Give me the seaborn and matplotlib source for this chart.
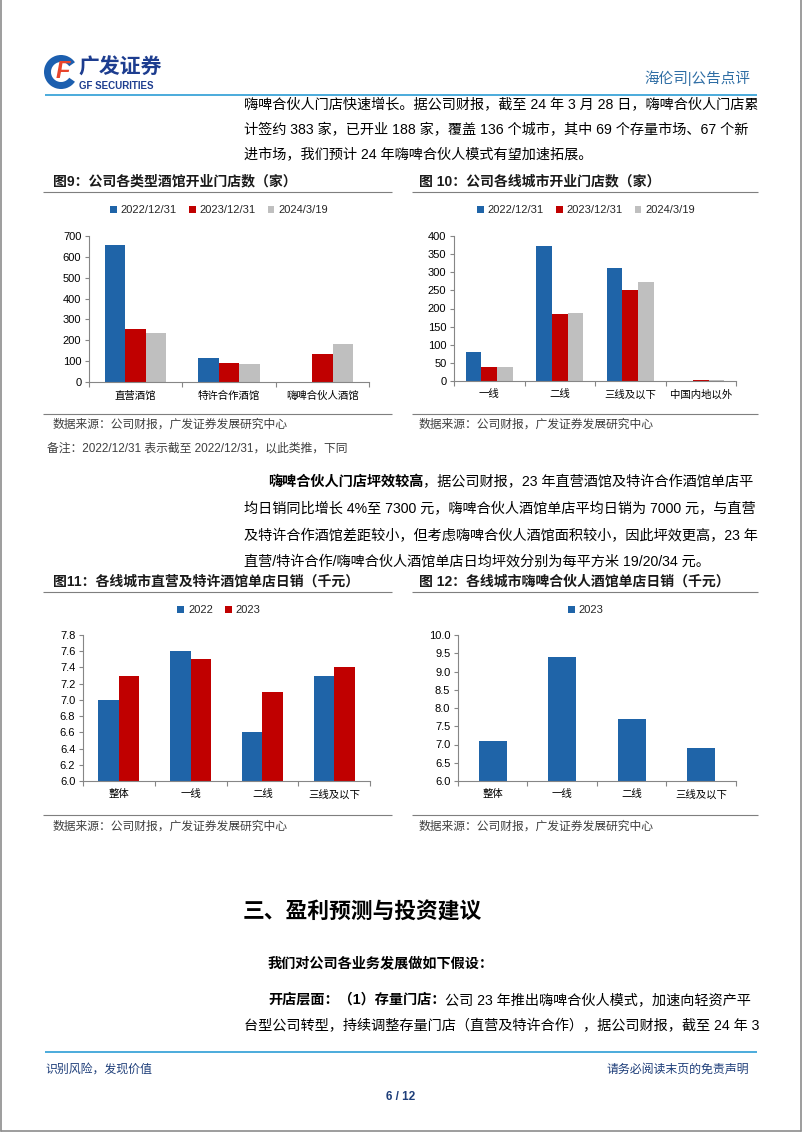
import numpy as np
import pandas as pd
import matplotlib
matplotlib.use('Agg')
import matplotlib.pyplot as plt
import seaborn as sns
from matplotlib.patches import Wedge
from matplotlib.ticker import FormatStrFormatter, MultipleLocator

# ---------------- data ----------------
fig9_categories = ['直营酒馆', '特许合作酒馆', '嗨啤合伙人酒馆']
fig9_series = ['2022/12/31', '2023/12/31', '2024/3/19']
fig9_2022 = [655, 115, 0]
fig9_2023 = [256, 93, 133]
fig9_2024 = [237, 85, 184]

fig10_categories = ['一线', '二线', '三线及以下', '中国内地以外']
fig10_series = ['2022/12/31', '2023/12/31', '2024/3/19']
fig10_2022 = [79, 372, 313, 0]
fig10_2023 = [38, 185, 251, 3]
fig10_2024 = [39, 187, 273, 2]

fig11_categories = ['整体', '一线', '二线', '三线及以下']
fig11_series = ['2022', '2023']
fig11_2022 = [7.0, 7.6, 6.6, 7.3]
fig11_2023 = [7.3, 7.5, 7.1, 7.4]

fig12_categories = ['整体', '一线', '二线', '三线及以下']
fig12_series = ['2023']
fig12_2023 = [7.1, 9.4, 7.7, 6.9]

BLUE = '#1F64A8'
RED = '#C00000'
GRAY = '#BFBFBF'
AXC = '#868686'

W, H = 802, 1133

sns.set_style('white')
plt.rcParams['font.family'] = ['Liberation Sans', 'Noto Sans CJK SC']
plt.rcParams['axes.unicode_minus'] = False

fig = plt.figure(figsize=(W / 100, H / 100), dpi=100)
fig.patch.set_facecolor('white')


def px_rect(x0, y0, x1, y1):
    return [x0 / W, 1 - y1 / H, (x1 - x0) / W, (y1 - y0) / H]


# overlay axes in pixel coordinates
axo = fig.add_axes([0, 0, 1, 1])
axo.set_xlim(0, W)
axo.set_ylim(H, 0)
axo.axis('off')


def T(x, y, s, size, weight='normal', color='black', ha='left', **kw):
    return axo.text(x, y, s, fontsize=size, fontweight=weight, color=color,
                    ha=ha, va='center', **kw)


def hline(y, x0, x1, color, lw):
    axo.plot([x0, x1], [y, y], color=color, lw=lw, solid_capstyle='butt')


renderer = fig.canvas.get_renderer()


def mixed(x, y, parts, size):
    for s, w in parts:
        t = T(x, y, s, size, weight=w)
        bb = t.get_window_extent(renderer=renderer)
        x = bb.x1


# ---------------- bar chart helper ----------------
def bar_chart(rect, cats, series, values, colors, width, ylim, step, fmt,
              legend_center, ticks_fs=8, cat_fs=7.5):
    x0, y0, x1, y1 = rect
    ax = fig.add_axes(px_rect(*rect))
    rows = []
    for s, vals in zip(series, values):
        for c, v in zip(cats, vals):
            rows.append({'cat': c, 'series': s, 'val': v})
    df = pd.DataFrame(rows)
    sns.barplot(data=df, x='cat', y='val', hue='series', order=cats,
                hue_order=series, palette=colors, width=width, saturation=1,
                linewidth=0, ax=ax, legend=True)
    n = len(cats)
    ax.set_xlim(-0.5, n - 0.5)
    ax.set_ylim(*ylim)
    ax.yaxis.set_major_locator(MultipleLocator(step))
    ax.yaxis.set_major_formatter(FormatStrFormatter(fmt))
    ax.set_xlabel('')
    ax.set_ylabel('')
    for sp in ['top', 'right']:
        ax.spines[sp].set_visible(False)
    for sp in ['left', 'bottom']:
        ax.spines[sp].set_color(AXC)
        ax.spines[sp].set_linewidth(0.8)
    ax.tick_params(axis='y', length=3, width=0.8, color=AXC, labelsize=ticks_fs,
                   pad=2.5, labelcolor='black', left=True)
    ax.tick_params(axis='x', which='major', length=0, pad=6, labelsize=cat_fs,
                   labelcolor='black')
    ax.set_xticks(np.arange(-0.5, n), minor=True)
    ax.tick_params(axis='x', which='minor', length=3.5, width=0.8, color=AXC,
                   bottom=True)
    ax.set_facecolor('white')
    cx, cy = legend_center
    sns.move_legend(ax, 'center',
                    bbox_to_anchor=((cx - x0) / (x1 - x0), (y1 - cy) / (y1 - y0)),
                    ncol=len(series), frameon=False, title=None, fontsize=8,
                    handlelength=0.6, handleheight=0.6, handletextpad=0.35,
                    columnspacing=1.1, borderaxespad=0)
    return ax


bar_chart((89, 236, 369, 382), fig9_categories, fig9_series,
          [fig9_2022, fig9_2023, fig9_2024], [BLUE, RED, GRAY], 0.66,
          (0, 700), 100, '%d', (219, 210))
bar_chart((454, 236, 736, 381), fig10_categories, fig10_series,
          [fig10_2022, fig10_2023, fig10_2024], [BLUE, RED, GRAY], 0.66,
          (0, 400), 50, '%d', (586, 210))
bar_chart((83, 635, 370, 781), fig11_categories, fig11_series,
          [fig11_2022, fig11_2023], [BLUE, RED], 0.57,
          (6.0, 7.8), 0.2, '%.1f', (219, 610))
bar_chart((458, 635, 736, 781), fig12_categories, fig12_series,
          [fig12_2023], [BLUE], 0.4,
          (6.0, 10.0), 0.5, '%.1f', (586, 610))

# ---------------- page decorations ----------------
# border
axo.plot([1, 1], [0, 1131], color='#8c8c8c', lw=1.2)
axo.plot([800.5, 800.5], [0, 1131], color='#8c8c8c', lw=1.2)
axo.plot([1, 800.5], [1131, 1131], color='#8c8c8c', lw=1.2)

# logo
axo.add_patch(Wedge((61, 72), 17, 35, 325, width=7, facecolor='#1C5FAF',
                    edgecolor='none'))
T(63, 72, 'F', 17, weight='bold', color='#E8452C', style='italic', ha='center')
T(78, 68, '广发证券', 15, weight='bold', color='#1D3D8F')
T(79, 86, 'GF SECURITIES', 7, weight='bold', color='#1D3D8F')
T(750, 78, '海伦司|公告点评', 10.5, color='#2E6DA4', ha='right')
hline(95, 45, 757, '#3DA5D9', 1.3)

BODY = 10.2
# paragraph 1
T(244, 105, '嗨啤合伙人门店快速增长。据公司财报，截至 24 年 3 月 28 日，嗨啤合伙人门店累', BODY)
T(244, 130, '计签约 383 家，已开业 188 家，覆盖 136 个城市，其中 69 个存量市场、67 个新', BODY)
T(244, 155, '进市场，我们预计 24 年嗨啤合伙人模式有望加速拓展。', BODY)

# chart titles / lines
TITLE_FS = 10
T(53, 181, '图9：公司各类型酒馆开业门店数（家）', TITLE_FS, weight='bold', color='#1a1a1a')
T(419, 181, '图 10：公司各线城市开业门店数（家）', TITLE_FS, weight='bold', color='#1a1a1a')
hline(192, 43, 392, '#7f7f7f', 0.8)
hline(192, 412, 758, '#7f7f7f', 0.8)
hline(414, 43, 392, '#7f7f7f', 0.8)
hline(414, 412, 758, '#7f7f7f', 0.8)
SRC = '数据来源：公司财报，广发证券发展研究中心'
T(53, 425, SRC, 8.5, color='#3f3f3f')
T(419, 425, SRC, 8.5, color='#3f3f3f')
T(47, 449, '备注：2022/12/31 表示截至 2022/12/31，以此类推，下同', 8.5, color='#3f3f3f')

# paragraph 2
mixed(268, 482, [('嗨啤合伙人门店坪效较高', 'bold'),
                 ('，据公司财报，23 年直营酒馆及特许合作酒馆单店平', 'normal')], BODY)
T(244, 509, '均日销同比增长 4%至 7300 元，嗨啤合伙人酒馆单店平均日销为 7000 元，与直营', BODY)
T(244, 536, '及特许合作酒馆差距较小，但考虑嗨啤合伙人酒馆面积较小，因此坪效更高，23 年', BODY)
T(244, 562, '直营/特许合作/嗨啤合伙人酒馆单店日均坪效分别为每平方米 19/20/34 元。', BODY)

T(53, 582, '图11：各线城市直营及特许酒馆单店日销（千元）', TITLE_FS, weight='bold', color='#1a1a1a')
T(419, 582, '图 12：各线城市嗨啤合伙人酒馆单店日销（千元）', TITLE_FS, weight='bold', color='#1a1a1a')
hline(592, 43, 392, '#7f7f7f', 0.8)
hline(592, 412, 758, '#7f7f7f', 0.8)
hline(815, 43, 392, '#7f7f7f', 0.8)
hline(815, 412, 758, '#7f7f7f', 0.8)
T(53, 827, SRC, 8.5, color='#3f3f3f')
T(419, 827, SRC, 8.5, color='#3f3f3f')

# section 3
T(243, 913, '三、盈利预测与投资建议', 15.7, weight='bold')
T(268, 963, '我们对公司各业务发展做如下假设：', BODY, weight='bold')
mixed(268, 1000, [('开店层面：（1）存量门店：', 'bold'),
                  ('公司 23 年推出嗨啤合伙人模式，加速向轻资产平', 'normal')], BODY)
T(244, 1026, '台型公司转型，持续调整存量门店（直营及特许合作），据公司财报，截至 24 年 3', BODY)

# footer
hline(1052, 45, 757, '#3DA5D9', 1.3)
T(45, 1070, '识别风险，发现价值', 8.6, color='#1F3F7A')
T(749, 1070, '请务必阅读末页的免责声明', 8.6, color='#1F3F7A', ha='right')
T(401, 1097, '6 / 12', 8.5, weight='bold', color='#1F3F7A', ha='center')

fig.savefig('out.png', dpi=100, facecolor='white')
